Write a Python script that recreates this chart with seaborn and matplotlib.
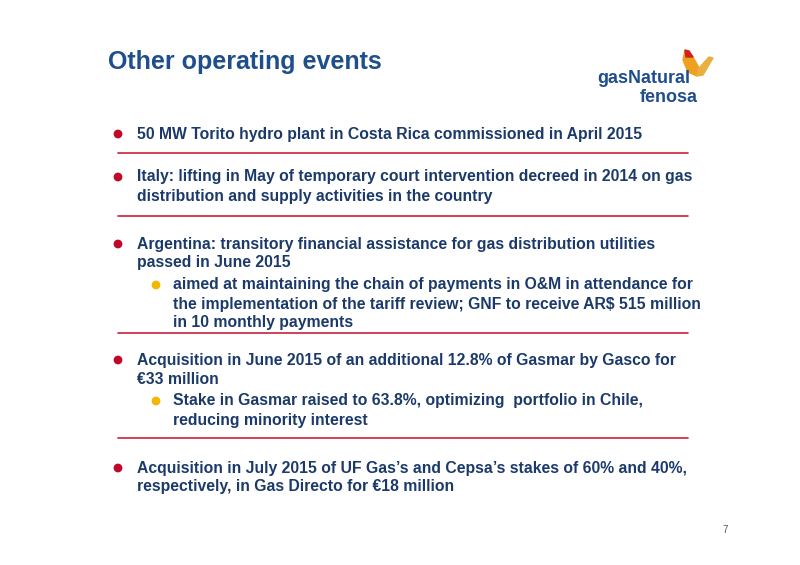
import matplotlib
matplotlib.use("Agg")
import matplotlib.pyplot as plt
import seaborn as sns
import pandas as pd
from matplotlib.patches import Polygon

sns.set_theme(style="white")
plt.rcParams['font.family'] = ['Liberation Sans', 'DejaVu Sans']

title = "Other operating events"
bullet_levels = [1, 1, 1, 2, 1, 2, 1]
bullet_y = [134, 177, 244, 285, 360, 401, 468]
bullet_texts = [
    ["50 MW Torito hydro plant in Costa Rica commissioned in April 2015"],
    ["Italy: lifting in May of temporary court intervention decreed in 2014 on gas",
     "distribution and supply activities in the country"],
    ["Argentina: transitory financial assistance for gas distribution utilities",
     "passed in June 2015"],
    ["aimed at maintaining the chain of payments in O&M in attendance for",
     "the implementation of the tariff review; GNF to receive AR$ 515 million",
     "in 10 monthly payments"],
    ["Acquisition in June 2015 of an additional 12.8% of Gasmar by Gasco for",
     "\u20ac33 million"],
    ["Stake in Gasmar raised to 63.8%, optimizing  portfolio in Chile,",
     "reducing minority interest"],
    ["Acquisition in July 2015 of UF Gas\u2019s and Cepsa\u2019s stakes of 60% and 40%,",
     "respectively, in Gas Directo for \u20ac18 million"],
]
separator_y = [153, 216, 333, 438]
page_number = "7"

TXT = "#1b3a6b"
fig = plt.figure(figsize=(8, 5.65), dpi=100)
ax = fig.add_axes([0, 0, 1, 1])

bx, by, bc = [], [], []
for lvl, y0 in zip(bullet_levels, bullet_y):
    bx.append(118 if lvl == 1 else 156); by.append(y0)
    bc.append("#c0092a" if lvl == 1 else "#f2b800")
df = pd.DataFrame({"x": bx, "y": by, "c": bc})
sns.scatterplot(data=df, x="x", y="y", hue="c", palette={c: c for c in set(bc)},
                s=40, legend=False, ax=ax, edgecolor="none")
ax.set_xlim(0, 800); ax.set_ylim(565, 0); ax.axis("off")

ax.text(108, 69, title, fontsize=18, fontweight="bold", color="#1f4e8c", va="baseline")

for lvl, y0, lines in zip(bullet_levels, bullet_y, bullet_texts):
    xt = 137 if lvl == 1 else 173
    for i, line in enumerate(lines):
        ax.text(xt, y0 + i * 19, line, fontsize=11.3, fontweight="bold",
                color=TXT, va="center")

for y in separator_y:
    ax.plot([118, 688], [y, y], color="#c9203a", lw=1.2)

ax.text(728, 530, page_number, fontsize=7, color="#555555", ha="right", va="center")

# logo
ax.text(690, 83, "gasNatural", fontsize=13, fontweight="bold", color="#1f4e8c",
        ha="right", va="baseline")
ax.text(698, 102, "fenosa", fontsize=13, fontweight="bold", color="#1f4e8c",
        ha="right", va="baseline")
ax.add_patch(Polygon([[685, 50], [683, 60], [688, 72], [697, 76], [699, 68], [693, 57]],
                     closed=True, color="#f0a020"))
ax.add_patch(Polygon([[685, 50], [689, 51], [693, 57], [686, 57]], closed=True, color="#d02020"))
ax.add_patch(Polygon([[699, 68], [709, 57], [713, 58], [703, 75], [697, 76]],
                     closed=True, color="#e8b040"))

fig.savefig("out.png", dpi=100)
